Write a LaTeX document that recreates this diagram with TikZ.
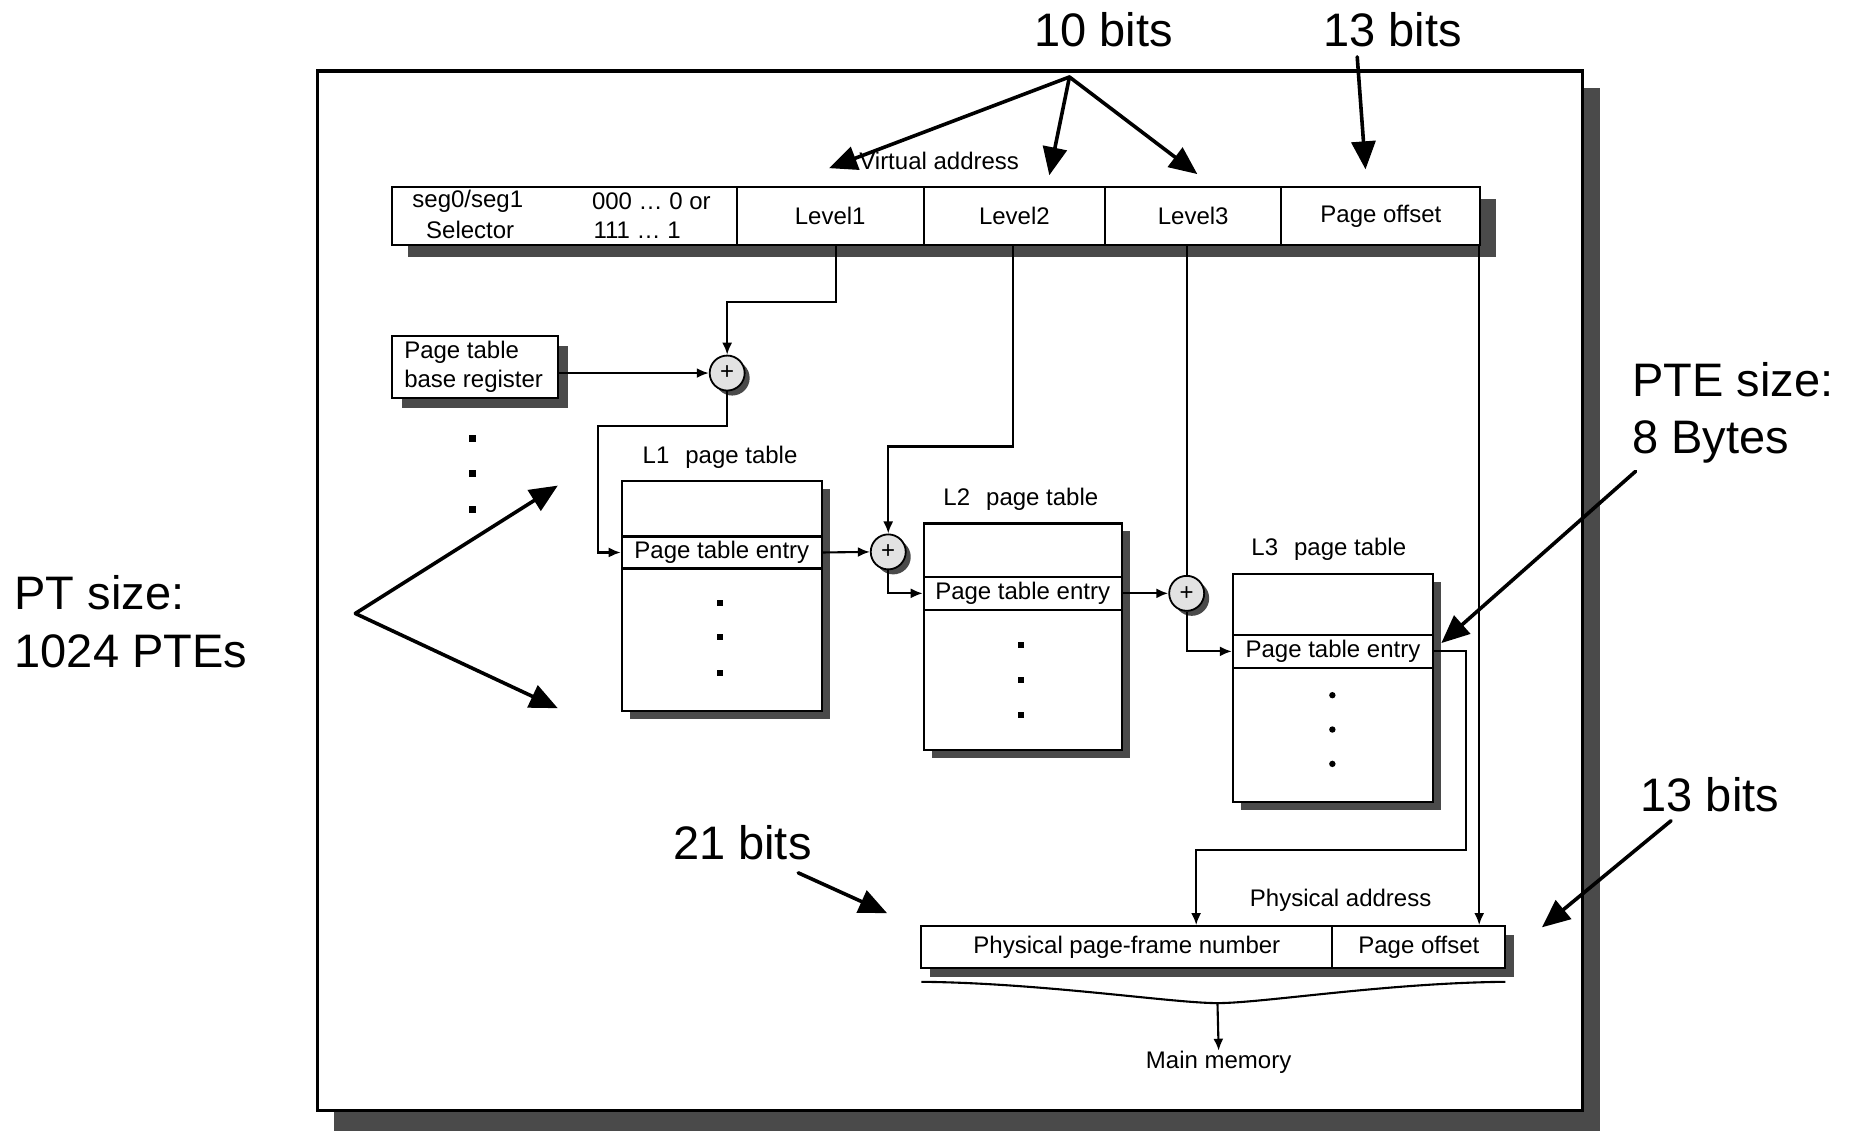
\documentclass[tikz,border=0pt]{standalone}
\usepackage{fontspec}
\setmainfont{Liberation Sans}
\usetikzlibrary{arrows.meta,fit,shadows,calc}
\definecolor{shgray}{HTML}{4A4A4A}
\definecolor{adderfill}{HTML}{E2E2E2}
\begin{document}
\begin{tikzpicture}[x=0.5922pt,y=-0.5922pt,
  sm/.style={font=\fontsize{12}{14.5}\selectfont, inner sep=0pt},
  bigtxt/.style={font=\fontsize{23.5}{29}\selectfont, inner sep=0pt},
  box/.style={draw, fill=white, line width=1.05pt, inner sep=0pt},
  shad/.style 2 args={drop shadow={shadow xshift=#1, shadow yshift=-#2, fill=shgray, opacity=1}},
  adder/.style={circle, draw, fill=adderfill, line width=0.9pt, minimum size=17.5pt, inner sep=0pt,
    font=\fontsize{12}{14}\selectfont,
    drop shadow={shadow xshift=2.5pt, shadow yshift=-2.5pt, fill=shgray, opacity=1}},
  conn/.style={line width=1.05pt, -{Latex[length=6pt,width=5pt]}},
  wire/.style={line width=1.05pt},
  note/.style={line width=1.8pt, line cap=round, -{Triangle[length=14pt,width=12pt]}},
  sq/.style={fill=black}
]
\useasboundingbox (0,0) rectangle (1568,955);

% outer frame with shadow
\fill[shgray] (282,74) rectangle (1351,955);
\node[fit={(268,60)(1336,938)}, draw, fill=white, line width=1.6pt, inner sep=0pt] (frame) {};

% virtual address
\node[sm] (tva) at (793,136) {Virtual address};
\node[box, shad={8pt}{6pt}, fit={(331,158)(1250,207)}] (vbar) {};
\node[box, fit={(331,158)(622,207)}] (seg) {};
\node[box, fit={(622,158)(780,207)}] (lv1) {};
\node[box, fit={(780,158)(933,207)}] (lv2) {};
\node[box, fit={(933,158)(1082,207)}] (lv3) {};
\node[box, fit={(1082,158)(1250,207)}] (voff) {};
\node[sm] (tseg1) at (395,170) {seg0/seg1};
\node[sm] (tseg2) at (397,194) {Selector};
\node[sm] (tzero) at (550,170) {000 … 0 or};
\node[sm] (tone) at (538,194) {111 … 1};
\node[sm] (tlv1) at (lv1) {Level1};
\node[sm] (tlv2) at (lv2) {Level2};
\node[sm] (tlv3) at (lv3) {Level3};
\node[sm] (tvoff) at (voff) {Page offset};

% page table base register
\node[box, shad={5pt}{5pt}, fit={(331,284)(471,336)}] (ptbr) {};
\node[sm, align=left, anchor=west] (tptbr) at (341,310) {Page table\\base register};
\foreach \yy in {370,400,430} \fill[sq] (396,\yy-3) rectangle ++(6,6);

% adders
\node[adder] (c1) at (614,315) {+};
\node[adder] (c2) at (750,466) {+};
\node[adder] (c3) at (1002,501) {+};

% L1 table
\node[sm] (l1lab) at (608,386) {L1\hspace{8pt}page table};
\node[box, shad={4pt}{4pt}, fit={(525,406)(694,600)}] (L1) {};
\node[box, fit={(525,453)(694,480)}] (L1e) {};
\node[sm] (tL1e) at (L1e) {Page table entry};
\foreach \yy in {509,538,568} \fill[sq] (605.5,\yy-2.5) rectangle ++(5,5);

% L2 table
\node[sm] (l2lab) at (862,422) {L2\hspace{8pt}page table};
\node[box, shad={4pt}{4pt}, fit={(780,442)(947,633)}] (L2) {};
\node[box, fit={(780,487)(947,515)}] (L2e) {};
\node[sm] (tL2e) at (L2e) {Page table entry};
\foreach \yy in {545,574,604} \fill[sq] (859.5,\yy-2.5) rectangle ++(5,5);

% L3 table
\node[sm] (l3lab) at (1122,464) {L3\hspace{8pt}page table};
\node[box, shad={4pt}{4pt}, fit={(1041,485)(1210,677)}] (L3) {};
\node[box, fit={(1041,536)(1210,564)}] (L3e) {};
\node[sm] (tL3e) at (L3e) {Page table entry};
\foreach \yy in {587,616,645} \fill[sq] (1125,\yy) circle (2.7);

% physical address
\node[sm] (tpa) at (1132,760) {Physical address};
\node[box, shad={4.5pt}{4.5pt}, fit={(778,782)(1271,817)}] (pbar) {};
\node[box, fit={(778,782)(1125,817)}] (pfn) {};
\node[box, fit={(1125,782)(1271,817)}] (poff) {};
\node[sm] (tpfn) at (pfn) {Physical page-frame number};
\node[sm] (tpoff) at (poff) {Page offset};
\node[sm] (mm) at (1029,897) {Main memory};

% connectors
\coordinate (a1) at (706,255);
\draw[conn] (a1 |- lv1.south) -- (a1) -| (c1.north);
\draw[conn] (ptbr.east |- c1) -- (c1.west);
\coordinate (a2) at (505,360);
\draw[conn] (c1.south) |- (a2) |- (L1e.west);
\coordinate (a3) at (855,377);
\draw[conn] (a3 |- lv2.south) -- (a3) -| (c2.north);
\draw[conn] (L1e.east) -- (c2.west);
\draw[conn] (c2.south) |- (L2e.west);
\draw[wire] (c3 |- lv3.south) -- (c3.north);
\draw[conn] (L2e.east) -- (c3.west);
\draw[conn] (c3.south) |- (L3e.west);
\coordinate (a4) at (1238,718);
\coordinate (a5) at (1010,718);
\draw[conn] (L3e.east) -| (a4) -- (a5) -- (a5 |- pfn.north);
\coordinate (a6) at (1249,400);
\draw[conn] (a6 |- voff.south) -- (a6 |- poff.north);

% brace to main memory
\coordinate (b1) at (778,829);
\coordinate (b2) at (1028,847);
\coordinate (b3) at (1271,829);
\draw[wire] (b1) .. controls (880,830) and (990,847) .. (b2) .. controls (1066,847) and (1170,830) .. (b3);
\draw[conn] (b2) -- (mm.north);

% annotations
\node[bigtxt, anchor=base west] (n10) at (873,39) {10 bits};
\node[bigtxt, anchor=base west] (n13) at (1117,39) {13 bits};
\node[bigtxt, anchor=base west] (pte1) at (1378,335) {PTE size:};
\node[bigtxt, anchor=base west] (pte2) at (1378,383) {8 Bytes};
\node[bigtxt, anchor=base west] (pt1) at (12,515) {PT size:};
\node[bigtxt, anchor=base west] (pt2) at (12,564) {1024 PTEs};
\node[bigtxt, anchor=base west] (n21) at (568,726) {21 bits};
\node[bigtxt, anchor=base west] (n13b) at (1385,685) {13 bits};

\coordinate (h10) at (903,65);
\coordinate (e10a) at (700,142);
\coordinate (e10b) at (886,148);
\coordinate (e10c) at (1011,147);
\draw[note] (h10) -- (e10a);
\draw[note] (h10) -- (e10b);
\draw[note] (h10) -- (e10c);
\coordinate (s13) at (1146,48);
\coordinate (e13) at (1153,143);
\draw[note] (s13) -- (e13);
\coordinate (spte) at (1381,398);
\coordinate (epte) at (1217,543);
\draw[note] (spte) -- (epte);
\coordinate (spt) at (300,518);
\coordinate (ept1) at (471,410);
\coordinate (ept2) at (471,598);
\draw[note] (spt) -- (ept1);
\draw[note] (spt) -- (ept2);
\coordinate (s21) at (674,737);
\coordinate (e21) at (749,771);
\draw[note] (s21) -- (e21);
\coordinate (s13b) at (1411,693);
\coordinate (e13b) at (1302,783);
\draw[note] (s13b) -- (e13b);
\end{tikzpicture}
\end{document}
